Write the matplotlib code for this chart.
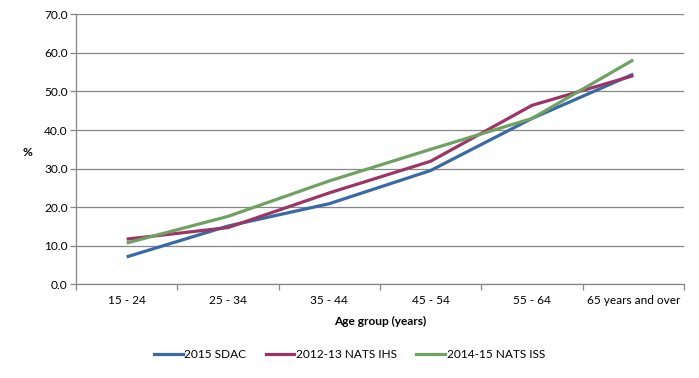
import numpy as np
import matplotlib
matplotlib.use("Agg")
import matplotlib.pyplot as plt
from matplotlib.lines import Line2D

# ===========================
# Data
# ===========================
age_groups = ["15 - 24", "25 - 34", "35 - 44", "45 - 54", "55 - 64", "65 years and over"]
sdac_2015 = [7.1, 15.1, 20.9, 29.5, 43.0, 54.5]
nats_ihs_2012 = [11.7, 14.7, 23.7, 31.9, 46.4, 54.1]
nats_iss_2014 = [10.7, 17.6, 26.8, 35.0, 43.0, 58.2]

series_names = ["2015 SDAC", "2012-13 NATS IHS", "2014-15 NATS ISS"]
colors = ["#3A6AA6", "#9C3566", "#6FA262"]
axis_grey = "#868686"

plt.rcParams["font.family"] = ["Lato", "DejaVu Sans"]
fontsize = 8.6

fig = plt.figure(figsize=(6.99, 3.78), dpi=100)
ax = fig.add_axes([0.1087, 0.248, 0.8698, 0.714])

x = np.arange(len(age_groups))
for vals, c in zip([sdac_2015, nats_ihs_2012, nats_iss_2014], colors):
    ax.plot(x, vals, color=c, linewidth=2.3, solid_capstyle="butt", zorder=3)

ax.set_xlim(-0.5, len(age_groups) - 0.5)
ax.set_ylim(0, 70)
ax.set_yticks(np.arange(0, 71, 10))
ax.set_yticklabels([f"{v:.1f}" for v in np.arange(0, 71, 10)], fontsize=fontsize)
ax.yaxis.grid(True, color=axis_grey, linewidth=0.9)
ax.set_axisbelow(True)

# category ticks sit between groups, labels centred under each group
ax.set_xticks(np.arange(-0.5, len(age_groups)), minor=False)
ax.set_xticklabels([])
ax.set_xticks(x, minor=True)
ax.set_xticklabels(age_groups, minor=True, fontsize=fontsize)
ax.tick_params(axis="x", which="minor", length=0, pad=8)
ax.tick_params(axis="x", which="major", length=4, color=axis_grey, width=0.9)
ax.tick_params(axis="y", length=4, color=axis_grey, width=0.9, pad=2)

for side in ["top", "right"]:
    ax.spines[side].set_visible(False)
for side in ["left", "bottom"]:
    ax.spines[side].set_color(axis_grey)
    ax.spines[side].set_linewidth(0.9)

ax.set_xlabel("Age group (years)", fontsize=fontsize, fontweight="bold", labelpad=7)
fig.text(27 / 699, 1 - 152 / 378, "%", fontsize=fontsize, fontweight="bold",
         ha="center", va="center")

handles = [Line2D([0], [0], color=c, linewidth=2.3) for c in colors]
fig.legend(handles, series_names, loc="center", bbox_to_anchor=(0.5, 1 - 355 / 378),
           ncol=3, frameon=False, fontsize=fontsize, handlelength=2.4,
           handletextpad=0.15, columnspacing=1.6)

fig.savefig("out.png", dpi=100)
